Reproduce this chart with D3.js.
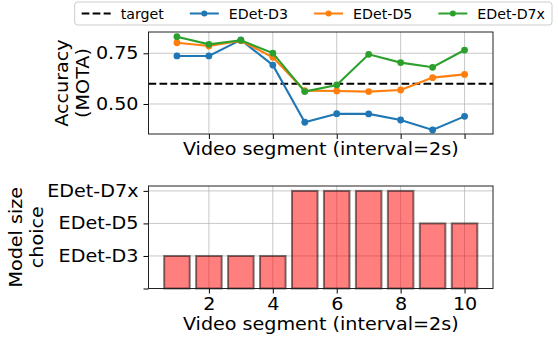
<!DOCTYPE html>
<html><head><meta charset="utf-8">
<script src="https://cdn.jsdelivr.net/npm/d3@7"></script>
<style>body{margin:0;background:#fff}svg{font-family:"DejaVu Sans",sans-serif}</style>
</head><body>
<script>
const segments = [1,2,3,4,5,6,7,8,9,10];
const accD3  = [0.737,0.737,0.816,0.692,0.410,0.452,0.451,0.421,0.372,0.439];
const accD5  = [0.802,0.786,0.812,0.730,0.566,0.564,0.561,0.569,0.630,0.646];
const accD7x = [0.832,0.794,0.814,0.751,0.561,0.594,0.745,0.704,0.681,0.766];
const target = 0.6;
const modelNames = ["EDet-D3","EDet-D5","EDet-D7x"];
const choice = ["EDet-D3","EDet-D3","EDet-D3","EDet-D3","EDet-D7x","EDet-D7x","EDet-D7x","EDet-D7x","EDet-D5","EDet-D5"];
const xTicks = [2,4,6,8,10];
const accTicks = [0.50,0.75];
const seriesNames = ["EDet-D3","EDet-D5","EDet-D7x"];
const seriesColors = ["#1f77b4","#ff7f0e","#2ca02c"];

const W=558,H=338;
const svg=d3.select("body").append("svg").attr("width",W).attr("height",H);
const L=148.5,R=493;
const top1=32,bot1=134,top2=186,bot2=288.5;
const FS=17.4, SX=1.1, LFS=14.2;

const x=d3.scaleLinear().domain([0.11,10.89]).range([L,R]);
const y1=d3.scaleLinear().domain([0.352,0.855]).range([bot1,top1]);
const levelIdx=d=>modelNames.indexOf(d)+1;
const y2=d3.scaleLinear().domain([0,3.15]).range([bot2,top2]);

function stretch(sel){
  sel.each(function(){
    const t=d3.select(this);
    const tx=+t.attr("x")||0, ty=+t.attr("y")||0;
    t.attr("x",0).attr("y",0).attr("transform",`translate(${tx},${ty}) scale(${SX},1)`);
  });
}
function grid(g, xs, ys, ysc, t, b){
  g.selectAll(".gx").data(xs).join("line").attr("x1",d=>x(d)).attr("x2",d=>x(d))
   .attr("y1",t).attr("y2",b).attr("stroke","#b0b0b0").attr("stroke-opacity",0.7).attr("stroke-width",1);
  g.selectAll(".gy").data(ys).join("line").attr("class","gy").attr("x1",L).attr("x2",R)
   .attr("y1",d=>ysc(d)).attr("y2",d=>ysc(d)).attr("stroke","#b0b0b0").attr("stroke-opacity",0.7).attr("stroke-width",1);
}
function styleAxis(g){
  g.select(".domain").remove();
  g.selectAll(".tick line").attr("stroke","#000").attr("stroke-width",1);
  g.selectAll("text").attr("font-size",FS).attr("fill","#000").attr("font-family","DejaVu Sans");
  stretch(g.selectAll("text"));
}

// ---------- top plot ----------
const g1=svg.append("g");
grid(g1.append("g"), xTicks, accTicks, y1, top1, bot1);
g1.append("line").attr("x1",L).attr("x2",R).attr("y1",y1(target)).attr("y2",y1(target))
  .attr("stroke","#000").attr("stroke-width",2).attr("stroke-dasharray","7.7,3.3");
const series=[accD3,accD5,accD7x];
const line=d3.line().x((d,i)=>x(segments[i])).y(d=>y1(d));
series.forEach((s,k)=>{
  g1.append("path").attr("d",line(s)).attr("fill","none").attr("stroke",seriesColors[k]).attr("stroke-width",2.1);
  g1.selectAll(null).data(s).join("circle").attr("cx",(d,i)=>x(segments[i])).attr("cy",d=>y1(d))
    .attr("r",3.4).attr("fill",seriesColors[k]);
});
const ax1=g1.append("g").attr("transform",`translate(0,${bot1})`).call(d3.axisBottom(x).tickValues(xTicks).tickSize(5).tickFormat(""));
styleAxis(ax1);
const ay1=g1.append("g").attr("transform",`translate(${L},0)`).call(d3.axisLeft(y1).tickValues(accTicks).tickSize(5).tickPadding(5).tickFormat(d3.format(".2f")));
styleAxis(ay1);
g1.append("rect").attr("x",L).attr("y",top1).attr("width",R-L).attr("height",bot1-top1).attr("fill","none").attr("stroke","#222").attr("stroke-width",1);
g1.append("text").attr("x",(L+R)/2).attr("y",155).attr("text-anchor","middle").attr("font-size",FS).text("Video segment (interval=2s)").call(stretch);
const yl1=g1.append("text").attr("transform",`translate(68,${(top1+bot1)/2}) rotate(-90) scale(${SX},1)`).attr("text-anchor","middle").attr("font-size",FS);
yl1.append("tspan").attr("x",0).attr("dy",0).text("Accuracy");
yl1.append("tspan").attr("x",0).attr("dy",21.5).text("(MOTA)");

// ---------- bottom plot ----------
const g2=svg.append("g");
grid(g2.append("g"), xTicks, [0,1,2,3], y2, top2, bot2);
g2.selectAll("rect.bar").data(choice).join("rect").attr("class","bar")
  .attr("x",(d,i)=>x(segments[i]-0.4)).attr("width",x(0.8)-x(0))
  .attr("y",d=>y2(levelIdx(d))).attr("height",d=>y2(0)-y2(levelIdx(d)))
  .attr("fill","#ff0000").attr("fill-opacity",0.5).attr("stroke","#000").attr("stroke-opacity",0.5).attr("stroke-width",2);
const ax2=g2.append("g").attr("transform",`translate(0,${bot2})`).call(d3.axisBottom(x).tickValues(xTicks).tickSize(5).tickPadding(4));
styleAxis(ax2);
const ay2=g2.append("g").attr("transform",`translate(${L},0)`).call(d3.axisLeft(y2).tickValues([0,1,2,3]).tickSize(5).tickPadding(5).tickFormat(d=>d===0?"":modelNames[d-1]));
styleAxis(ay2);
g2.append("rect").attr("x",L).attr("y",top2).attr("width",R-L).attr("height",bot2-top2).attr("fill","none").attr("stroke","#222").attr("stroke-width",1);
g2.append("text").attr("x",(L+R)/2).attr("y",329.5).attr("text-anchor","middle").attr("font-size",FS).text("Video segment (interval=2s)").call(stretch);
const yl2=g2.append("text").attr("transform",`translate(22,${(top2+bot2)/2}) rotate(-90) scale(${SX},1)`).attr("text-anchor","middle").attr("font-size",FS);
yl2.append("tspan").attr("x",0).attr("dy",0).text("Model size");
yl2.append("tspan").attr("x",0).attr("dy",21.5).text("choice");

// ---------- legend ----------
const leg=svg.append("g");
const entries=[{name:"target",color:"#000",dash:true}].concat(seriesNames.map((n,i)=>({name:n,color:seriesColors[i],dash:false})));
const handle=29, gapT=10, colGap=26, pad=7, boxR=552, boxT=2, boxB=25, cy=13.5;
const tmp=leg.append("text").attr("font-size",LFS);
const widths=entries.map(e=>{tmp.text(e.name);return tmp.node().getComputedTextLength();});
tmp.remove();
const total=pad*2+d3.sum(widths)+entries.length*(handle+gapT)+(entries.length-1)*colGap;
const boxL=boxR-total;
leg.append("rect").attr("x",boxL).attr("y",boxT).attr("width",total).attr("height",boxB-boxT).attr("rx",3)
  .attr("fill","#fff").attr("fill-opacity",0.8).attr("stroke","#cccccc").attr("stroke-width",1);
let cx=boxL+pad;
entries.forEach((e,i)=>{
  leg.append("line").attr("x1",cx).attr("x2",cx+handle).attr("y1",cy).attr("y2",cy).attr("stroke",e.color).attr("stroke-width",2)
    .attr("stroke-dasharray",e.dash?"7.7,3.3":null);
  if(!e.dash) leg.append("circle").attr("cx",cx+handle/2).attr("cy",cy).attr("r",3).attr("fill",e.color);
  leg.append("text").attr("x",cx+handle+gapT).attr("y",cy).attr("dy","0.36em").attr("font-size",LFS).text(e.name);
  cx+=handle+gapT+widths[i]+colGap;
});
</script>
</body></html>
